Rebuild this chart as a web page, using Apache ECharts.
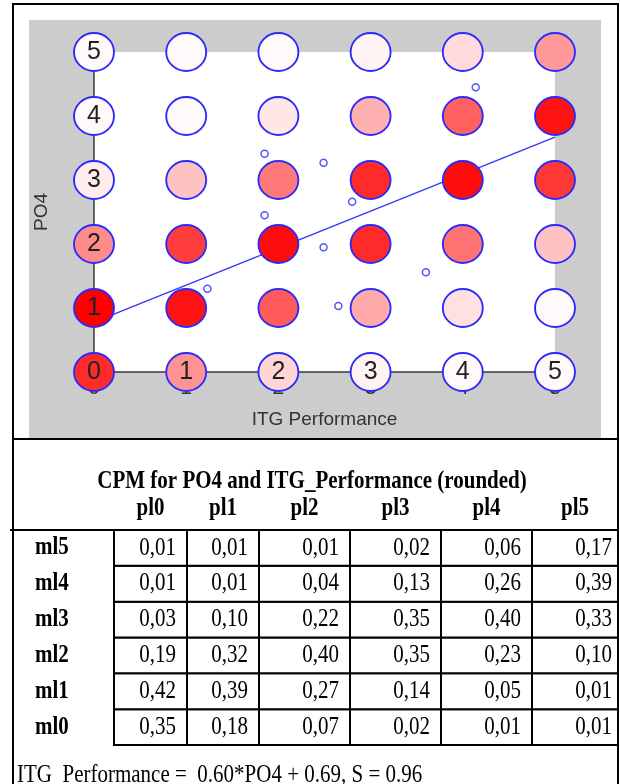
<!DOCTYPE html>
<html>
<head>
<meta charset="utf-8">
<script src="https://cdn.jsdelivr.net/npm/echarts@6/dist/echarts.min.js"></script>
<style>
html,body{margin:0;padding:0;background:#fff;}
#main{width:620px;height:784px;}
</style>
</head>
<body>
<div id="main"></div>
<script>
// ---- data ----
const itgLevels = [0, 1, 2, 3, 4, 5];           // ITG Performance (x)
const po4Levels = [0, 1, 2, 3, 4, 5];           // PO4 (y)
const colLabels = ['pl0', 'pl1', 'pl2', 'pl3', 'pl4', 'pl5'];
const rowLabels = ['ml0', 'ml1', 'ml2', 'ml3', 'ml4', 'ml5'];
const ml0 = [0.35, 0.18, 0.07, 0.02, 0.01, 0.01];
const ml1 = [0.42, 0.39, 0.27, 0.14, 0.05, 0.01];
const ml2 = [0.19, 0.32, 0.40, 0.35, 0.23, 0.10];
const ml3 = [0.03, 0.10, 0.22, 0.35, 0.40, 0.33];
const ml4 = [0.01, 0.01, 0.04, 0.13, 0.26, 0.39];
const ml5 = [0.01, 0.01, 0.01, 0.02, 0.06, 0.17];
const cpmRows = [ml0, ml1, ml2, ml3, ml4, ml5];
const meanItg = [4.14, 1.85, 2.49, 2.80, 1.85, 2.49, 3.60, 1.23, 2.65];
const meanPo4 = [4.45, 3.41, 3.27, 2.66, 2.45, 1.95, 1.56, 1.30, 1.03];
const lineItg = [0, 5];
const linePo4 = [0.78, 3.67];
const regSlope = 0.60, regIntercept = 0.69, regS = 0.96;
const xName = 'ITG Performance';
const yName = 'PO4';
const tableTitle = 'CPM for PO4 and ITG_Performance (rounded)';

// ---- layout (not data) ----
const colEdges = [114, 187, 259, 350, 441, 532, 618];
const TABLE_TOP = 530, TABLE_H = 215;
const TEXT_SY = 1.2;

// ---- build ----
const nodeData = [];
po4Levels.forEach((j) => itgLevels.forEach((i) => nodeData.push([i, j, cpmRows[j][i]])));
const meanData = meanItg.map((v, k) => [v, meanPo4[k]]);
const lineData = lineItg.map((v, k) => [v, linePo4[k]]);
const fmt = (v) => v.toFixed(2).replace('.', ',');
const footer = 'ITG  Performance =  ' + regSlope.toFixed(2) + '*PO4 + ' + regIntercept.toFixed(2) + ', S = ' + regS.toFixed(2);

const serif = '"Liberation Serif", "Times New Roman", serif';
const sans = '"Liberation Sans", Arial, sans-serif';

const grids = [{left: 94, top: 52, width: 461, height: 320, show: true, backgroundColor: '#ffffff', borderWidth: 0, outerBoundsMode: 'none'}];
const xAxes = [{type: 'value', gridIndex: 0, min: 0, max: 5, interval: 1,
  name: xName, nameLocation: 'middle', nameGap: 38,
  nameTextStyle: {fontFamily: sans, fontSize: 19, color: '#333'},
  axisLine: {lineStyle: {color: '#3a3a3a', width: 1.5}},
  axisTick: {show: false}, splitLine: {show: false},
  axisLabel: {fontFamily: sans, fontSize: 21, color: '#333', margin: 6}}];
const yAxes = [{type: 'value', gridIndex: 0, min: 0, max: 5, interval: 1,
  name: yName, nameLocation: 'middle', nameGap: 43, nameRotate: 90,
  nameTextStyle: {fontFamily: sans, fontSize: 19, color: '#333'},
  axisLine: {show: true, lineStyle: {color: '#3a3a3a', width: 1.5}},
  axisTick: {show: false}, splitLine: {show: false},
  axisLabel: {show: false}}];

const series = [
  {type: 'line', xAxisIndex: 0, yAxisIndex: 0, data: lineData, symbol: 'none', z: 1,
   lineStyle: {color: '#3434ff', width: 1.3}},
  {type: 'scatter', xAxisIndex: 0, yAxisIndex: 0, data: nodeData, symbol: 'circle',
   symbolSize: [40, 38], z: 3,
   itemStyle: {borderColor: '#2a2aff', borderWidth: 1.8, opacity: 1},
   label: {show: true, position: 'inside', fontFamily: sans, fontSize: 25, color: '#222',
     formatter: (p) => p.value[0] === 0 ? String(p.value[1]) : (p.value[1] === 0 ? String(p.value[0]) : '')}},
  {type: 'scatter', xAxisIndex: 0, yAxisIndex: 0, data: meanData, symbol: 'circle',
   symbolSize: 7, z: 4,
   itemStyle: {color: '#ffffff', borderColor: '#2a2aff', borderWidth: 1.5}}
];

function tableText(txt, x, y, align, bold) {
  return {type: 'text', x: x, y: y, scaleY: TEXT_SY,
    style: {text: txt, align: align, verticalAlign: 'middle',
      font: (bold ? 'bold ' : '') + '21px ' + serif, fill: '#000'}};
}

colLabels.forEach((lab, ci) => {
  const g = grids.length;
  grids.push({left: colEdges[ci], top: TABLE_TOP, width: colEdges[ci + 1] - colEdges[ci], height: TABLE_H, show: false, outerBoundsMode: 'none'});
  xAxes.push({type: 'category', gridIndex: g, data: [lab], show: false});
  yAxes.push({type: 'category', gridIndex: g, data: rowLabels, show: false});
  series.push({type: 'custom', xAxisIndex: g, yAxisIndex: g, z: 2,
    data: rowLabels.map((r, j) => [0, j, cpmRows[j][ci], lab, r]),
    renderItem: function (params, api) {
      const j = api.value(1);
      const c = api.coord([0, j]);
      const s = api.size([1, 1]);
      const x0 = c[0] - s[0] / 2, y0 = c[1] - s[1] / 2;
      const kids = [
        {type: 'rect', shape: {x: x0, y: y0, width: s[0], height: s[1]},
         style: {fill: '#ffffff', stroke: '#000', lineWidth: 2}},
        tableText(fmt(api.value(2)), x0 + s[0] - (ci === colLabels.length - 1 ? 6 : 11), c[1], 'right', false)
      ];
      if (j === rowLabels.length - 1) kids.push(tableText(lab, c[0], y0 - 22, 'center', true));
      if (ci === 0) kids.push(tableText(rowLabels[j], x0 - 79, c[1], 'left', true));
      return {type: 'group', children: kids};
    }});
});

const chart = echarts.init(document.getElementById('main'), null, {renderer: 'canvas'});
chart.setOption({
  backgroundColor: '#ffffff',
  animation: false,
  grid: grids,
  xAxis: xAxes,
  yAxis: yAxes,
  visualMap: {
    type: 'continuous', show: false, min: 0, max: 0.42, dimension: 2, seriesIndex: 1,
    inRange: {color: ['#ffffff', '#ff0000']}
  },
  series: series,
  graphic: [
    {type: 'rect', z: -5, shape: {x: 29, y: 20, width: 572, height: 418}, style: {fill: '#cccccc'}},
    {type: 'polyline', z: 100, shape: {points: [[13, 784], [13, 4], [618, 4], [618, 784]]}, style: {stroke: '#000', lineWidth: 2, fill: null}},
    {type: 'line', z: 100, shape: {x1: 13, y1: 439, x2: 618, y2: 439}, style: {stroke: '#000', lineWidth: 2}},
    {type: 'line', z: 100, shape: {x1: 10, y1: 530, x2: 618, y2: 530}, style: {stroke: '#000', lineWidth: 2}},
    {type: 'text', z: 100, x: 312, y: 481, scaleY: TEXT_SY,
     style: {text: tableTitle, align: 'center', verticalAlign: 'middle', font: 'bold 21px ' + serif, fill: '#000'}},
    {type: 'text', z: 100, x: 17, y: 775, scaleY: TEXT_SY,
     style: {text: footer, align: 'left', verticalAlign: 'middle', font: '21px ' + serif, fill: '#000'}}
  ]
});
</script>
</body>
</html>
